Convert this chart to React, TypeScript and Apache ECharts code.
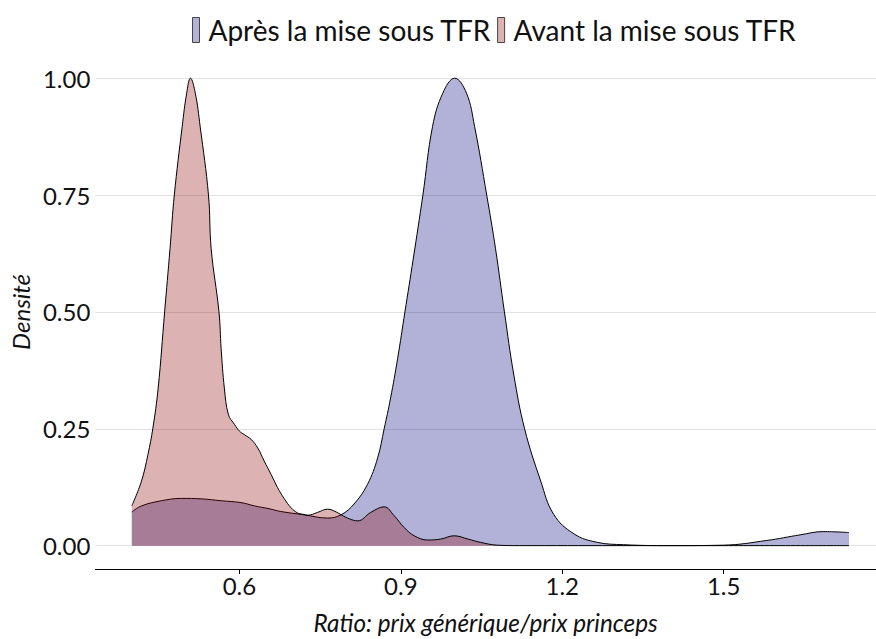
import React, { useEffect, useRef } from "react";
import * as echarts from "echarts";

const seriesNames = ["Après la mise sous TFR", "Avant la mise sous TFR"];

const apresX = [0.4, 0.418, 0.455, 0.492, 0.53, 0.566, 0.603, 0.628, 0.655, 0.677, 0.72, 0.764, 0.789, 0.813, 0.838, 0.857, 0.869, 0.881, 0.894, 0.9076, 0.923, 0.941, 0.959, 0.978, 1.0, 1.022, 1.037, 1.0596, 1.076, 1.0925, 1.11, 1.13, 1.16, 1.184, 1.222, 1.265, 1.314, 1.4, 1.5, 1.58, 1.642, 1.685, 1.733];
const apresY = [0.072, 0.085, 0.096, 0.101, 0.1, 0.096, 0.092, 0.085, 0.079, 0.073, 0.066, 0.059, 0.066, 0.089, 0.131, 0.188, 0.25, 0.316, 0.4, 0.5, 0.613, 0.75, 0.897, 0.968, 1.0, 0.968, 0.897, 0.75, 0.635, 0.5, 0.365, 0.25, 0.138, 0.067, 0.025, 0.007, 0.002, 0.0, 0.001, 0.011, 0.023, 0.03, 0.028];

const avantX = [0.4, 0.418, 0.43, 0.439, 0.449, 0.461, 0.471, 0.479, 0.4937, 0.502, 0.509, 0.518, 0.527, 0.5425, 0.5475, 0.562, 0.566, 0.572, 0.5796, 0.591, 0.6, 0.609, 0.622, 0.634, 0.646, 0.659, 0.671, 0.683, 0.696, 0.708, 0.718, 0.727, 0.745, 0.764, 0.78, 0.789, 0.805, 0.82, 0.844, 0.869, 0.8876, 0.906, 0.925, 0.95, 0.974, 0.999, 1.025, 1.048, 1.079, 1.12, 1.3, 1.5, 1.733];
const avantY = [0.085, 0.138, 0.195, 0.25, 0.337, 0.5, 0.635, 0.75, 0.897, 0.968, 1.0, 0.968, 0.897, 0.75, 0.635, 0.5, 0.422, 0.337, 0.28, 0.259, 0.245, 0.2375, 0.227, 0.209, 0.181, 0.152, 0.124, 0.101, 0.081, 0.07, 0.067, 0.065, 0.071, 0.078, 0.072, 0.066, 0.057, 0.053, 0.071, 0.083, 0.064, 0.039, 0.021, 0.012, 0.014, 0.021, 0.014, 0.007, 0.001, 0.0, 0.0, 0.0, 0.0];

const xTicks = [0.6, 0.9, 1.2, 1.5];
const yTicks = [0, 0.25, 0.5, 0.75, 1.0];

const apresColor = "rgba(0,0,128,0.3)";
const avantColor = "rgba(139,0,0,0.3)";

export default function App() {
  const ref = useRef<HTMLDivElement>(null);
  useEffect(() => {
    if (!ref.current) return;
    const chart = echarts.init(ref.current, null, { renderer: "svg" });
    const zip = (xs: number[], ys: number[]) => xs.map((x, i) => [x, ys[i]]);
    const font = "Lato";
    chart.setOption({
      animation: false,
      textStyle: { fontFamily: font },
      legend: {
        top: 16,
        left: 192,
        padding: 0,
        itemWidth: 7,
        itemHeight: 25,
        itemGap: 6,
        textStyle: { fontFamily: font, fontSize: 28, color: "#111", padding: [0, 0, 0, 4] },
        data: [
          { name: seriesNames[0], icon: "rect", itemStyle: { color: apresColor, borderColor: "#444", borderWidth: 1 } },
          { name: seriesNames[1], icon: "rect", itemStyle: { color: avantColor, borderColor: "#444", borderWidth: 1 } },
        ],
      },
      grid: { left: 94, right: 0, top: 54.8, bottom: 67.2, containLabel: false },
      xAxis: {
        type: "value",
        min: 0.3322,
        max: 1.7831,
        name: "Ratio: prix générique/prix princeps",
        nameLocation: "middle",
        nameGap: 41,
        nameTextStyle: { fontFamily: font, fontSize: 24.3, fontStyle: "italic", color: "#111" },
        axisLine: { show: true, onZero: false, lineStyle: { color: "#000", width: 1 } },
        axisTick: { show: true, length: 5, customValues: xTicks, lineStyle: { color: "#000" } },
        axisLabel: {
          customValues: xTicks,
          margin: 4,
          fontFamily: font,
          fontSize: 24,
          color: "#111",
          formatter: (v: number) => v.toFixed(1),
        },
        splitLine: { show: false },
      },
      yAxis: {
        type: "value",
        min: -0.05,
        max: 1.05,
        name: "Densité",
        nameLocation: "middle",
        nameGap: 59,
        nameTextStyle: { fontFamily: font, fontSize: 24, fontStyle: "italic", color: "#111" },
        axisLine: { show: false },
        axisTick: { show: false, customValues: yTicks },
        axisLabel: {
          customValues: yTicks,
          margin: 5,
          fontFamily: font,
          fontSize: 24,
          color: "#111",
          formatter: (v: number) => v.toFixed(2),
        },
        splitLine: { show: true, lineStyle: { color: "#e2e2e2", width: 1 } },
      },
      series: [
        {
          name: seriesNames[0],
          type: "line",
          data: zip(apresX, apresY),
          smooth: 0.4,
          showSymbol: false,
          lineStyle: { color: "#000", width: 1 },
          itemStyle: { color: apresColor },
          areaStyle: { color: apresColor, opacity: 1 },
          z: 2,
        },
        {
          name: seriesNames[1],
          type: "line",
          data: zip(avantX, avantY),
          smooth: 0.4,
          showSymbol: false,
          lineStyle: { color: "#000", width: 1 },
          itemStyle: { color: avantColor },
          areaStyle: { color: avantColor, opacity: 1 },
          z: 3,
        },
      ],
    });
    return () => chart.dispose();
  }, []);
  return (
    <div
      ref={ref}
      style={{ position: "absolute", left: 0, top: 0, width: 876, height: 639, background: "#fff" }}
    />
  );
}
